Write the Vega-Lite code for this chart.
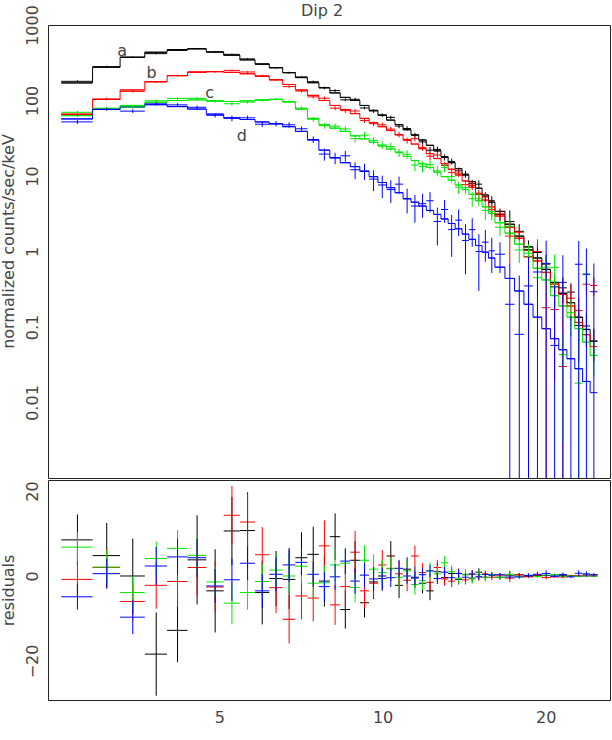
{
"$schema": "https://vega.github.io/schema/vega-lite/v6.json",
"padding": {"left": 0, "top": 2, "right": 0, "bottom": 0},
"spacing": 0,
"config": {
  "font": "DejaVu Sans",
  "view": {"stroke": "#222", "strokeWidth": 1},
  "axis": {"grid": false, "domain": false, "labelFont": "DejaVu Sans", "labelFontSize": 16, "labelColor": "#444", "titleFont": "DejaVu Sans", "titleFontSize": 16, "titleFontWeight": "normal", "titleColor": "#444", "tickColor": "#222", "tickWidth": 1, "tickSize": 0, "labelFlush": false, "labelOverlap": false}
},
"datasets": {
  "lbl": [{"t":"a","x":3.31,"y":459},{"t":"b","x":3.75,"y":232},{"t":"c","x":4.80,"y":125},{"t":"d","x":5.50,"y":34.2}],
  "spec": [
{"s":"a","lo":2.555,"hi":2.918,"c":2.7365,"m":171,"o":179.5,"el":173.5,"eh":185.5,"r":8.5,"e":6},
{"s":"a","lo":2.918,"hi":3.28,"c":3.099,"m":276,"o":280.8,"el":273.1,"eh":288.5,"r":4.8,"e":7.7},
{"s":"a","lo":3.28,"hi":3.643,"c":3.4615,"m":374,"o":374,"el":365.2,"eh":382.8,"r":0,"e":8.8},
{"s":"a","lo":3.643,"hi":4.005,"c":3.824,"m":436,"o":417.6,"el":407.8,"eh":427.4,"r":-18.4,"e":9.8},
{"s":"a","lo":4.005,"hi":4.368,"c":4.1865,"m":473,"o":460.2,"el":452.7,"eh":467.7,"r":-12.8,"e":7.5},
{"s":"a","lo":4.368,"hi":4.73,"c":4.549,"m":483,"o":486.8,"el":476.3,"eh":497.3,"r":3.8,"e":10.5},
{"s":"a","lo":4.73,"hi":5.093,"c":4.9115,"m":440,"o":436.5,"el":426.7,"eh":446.3,"r":-3.5,"e":9.8},
{"s":"a","lo":5.093,"hi":5.455,"c":5.274,"m":398,"o":408.6,"el":400.6,"eh":416.6,"r":10.6,"e":8},
{"s":"a","lo":5.455,"hi":5.818,"c":5.6365,"m":345,"o":355.7,"el":346.7,"eh":364.7,"r":10.7,"e":9},
{"s":"a","lo":5.818,"hi":6.18,"c":5.999,"m":305,"o":301.1,"el":293.6,"eh":308.6,"r":-3.9,"e":7.5},
{"s":"a","lo":6.18,"hi":6.543,"c":6.3615,"m":272,"o":271.4,"el":264.9,"eh":277.9,"r":-0.6,"e":6.5},
{"s":"a","lo":6.543,"hi":6.905,"c":6.724,"m":234,"o":233.2,"el":226.2,"eh":240.2,"r":-0.8,"e":7},
{"s":"a","lo":6.905,"hi":7.268,"c":7.0865,"m":201,"o":205.3,"el":199.3,"eh":211.3,"r":4.3,"e":6},
{"s":"a","lo":7.268,"hi":7.63,"c":7.449,"m":172,"o":177.1,"el":170.6,"eh":183.6,"r":5.1,"e":6.5},
{"s":"a","lo":7.63,"hi":7.993,"c":7.8115,"m":148,"o":146.8,"el":140.8,"eh":152.8,"r":-1.2,"e":6},
{"s":"a","lo":7.993,"hi":8.355,"c":8.174,"m":126,"o":135.25,"el":129.75,"eh":140.75,"r":9.25,"e":5.5},
{"s":"a","lo":8.355,"hi":8.718,"c":8.5365,"m":110,"o":102.1,"el":97.6,"eh":106.6,"r":-7.9,"e":4.5},
{"s":"a","lo":8.718,"hi":9.08,"c":8.899,"m":100,"o":103.7,"el":99.2,"eh":108.2,"r":3.7,"e":4.5},
{"s":"a","lo":9.08,"hi":9.443,"c":9.2615,"m":86,"o":79.7,"el":76.2,"eh":83.2,"r":-6.3,"e":3.5},
{"s":"a","lo":9.443,"hi":9.805,"c":9.624,"m":74,"o":72.6,"el":68.6,"eh":76.6,"r":-1.4,"e":4},
{"s":"a","lo":9.805,"hi":10.17,"c":9.9875,"m":64,"o":64,"el":60.5,"eh":67.5,"r":0,"e":3.5},
{"s":"a","lo":10.17,"hi":10.54,"c":10.355,"m":55,"o":59.7,"el":56.2,"eh":63.2,"r":4.7,"e":3.5},
{"s":"a","lo":10.54,"hi":10.91,"c":10.725,"m":48,"o":45.8,"el":42.8,"eh":48.8,"r":-2.2,"e":3},
{"s":"a","lo":10.91,"hi":11.285,"c":11.0975,"m":41,"o":42.6,"el":39.8,"eh":45.4,"r":1.6,"e":2.8},
{"s":"a","lo":11.285,"hi":11.66,"c":11.4725,"m":35,"o":34.7,"el":32.1,"eh":37.3,"r":-0.3,"e":2.6},
{"s":"a","lo":11.66,"hi":12.04,"c":11.85,"m":30,"o":28.3,"el":25.9,"eh":30.7,"r":-1.7,"e":2.4},
{"s":"a","lo":12.04,"hi":12.425,"c":12.2325,"m":25.5,"o":22,"el":19.8,"eh":24.2,"r":-3.5,"e":2.2},
{"s":"a","lo":12.425,"hi":12.815,"c":12.62,"m":21.5,"o":22.5,"el":20.5,"eh":24.5,"r":1,"e":2},
{"s":"a","lo":12.815,"hi":13.21,"c":13.0125,"m":18,"o":17.6,"el":16,"eh":19.2,"r":-0.4,"e":1.6},
{"s":"a","lo":13.21,"hi":13.61,"c":13.41,"m":15,"o":15.6,"el":14.2,"eh":17,"r":0.6,"e":1.4},
{"s":"a","lo":13.61,"hi":14.015,"c":13.8125,"m":12.5,"o":11.7,"el":10.5,"eh":12.9,"r":-0.8,"e":1.2},
{"s":"a","lo":14.015,"hi":14.425,"c":14.22,"m":10.3,"o":10.6,"el":9.5,"eh":11.7,"r":0.3,"e":1.1},
{"s":"a","lo":14.425,"hi":14.84,"c":14.6325,"m":8.4,"o":7.9,"el":6.9,"eh":8.9,"r":-0.5,"e":1},
{"s":"a","lo":14.84,"hi":15.26,"c":15.05,"m":6.9,"o":7.8,"el":6.9,"eh":8.7,"r":0.9,"e":0.9},
{"s":"a","lo":15.26,"hi":15.685,"c":15.4725,"m":5.6,"o":5.3,"el":4.5,"eh":6.1,"r":-0.3,"e":0.8},
{"s":"a","lo":15.685,"hi":16.115,"c":15.9,"m":4.5,"o":4.7,"el":4,"eh":5.4,"r":0.2,"e":0.7},
{"s":"a","lo":16.115,"hi":16.815,"c":16.465,"m":3.4,"o":3.1,"el":2.5,"eh":3.7,"r":-0.3,"e":0.6},
{"s":"a","lo":16.815,"hi":17.515,"c":17.165,"m":2.3,"o":2.5,"el":1.5,"eh":3.5,"r":0.2,"e":1},
{"s":"a","lo":17.515,"hi":18.225,"c":17.87,"m":1.6,"o":1.85,"el":1.4,"eh":2.3,"r":0.25,"e":0.45},
{"s":"a","lo":18.225,"hi":18.945,"c":18.585,"m":1.15,"o":1.05,"el":0.7,"eh":1.4,"r":-0.1,"e":0.35},
{"s":"a","lo":18.945,"hi":19.665,"c":19.305,"m":0.82,"o":0.97,"el":0.67,"eh":1.27,"r":0.15,"e":0.3},
{"s":"a","lo":19.665,"hi":20.395,"c":20.03,"m":0.58,"o":0.68,"el":0.46,"eh":0.9,"r":0.1,"e":0.22},
{"s":"a","lo":20.395,"hi":21.135,"c":20.765,"m":0.39,"o":0.34,"el":0.19,"eh":0.49,"r":-0.05,"e":0.15},
{"s":"a","lo":21.135,"hi":21.875,"c":21.505,"m":0.28,"o":0.33,"el":0.21,"eh":0.45,"r":0.05,"e":0.12},
{"s":"a","lo":21.875,"hi":22.625,"c":22.25,"m":0.21,"o":0.29,"el":0.2,"eh":0.38,"r":0.08,"e":0.09},
{"s":"a","lo":22.625,"hi":23.385,"c":23.005,"m":0.135,"o":0.105,"el":0.035,"eh":0.175,"r":-0.03,"e":0.07},
{"s":"a","lo":23.385,"hi":24.145,"c":23.765,"m":0.093,"o":0.103,"el":0.053,"eh":0.153,"r":0.01,"e":0.05},
{"s":"a","lo":24.145,"hi":24.915,"c":24.53,"m":0.065,"o":0.065,"el":0.035,"eh":0.095,"r":0,"e":0.03},
{"s":"b","lo":2.555,"hi":2.918,"c":2.7365,"m":66,"o":65.2,"el":61.2,"eh":69.2,"r":-0.8,"e":4},
{"s":"b","lo":2.918,"hi":3.28,"c":3.099,"m":103,"o":105,"el":100.5,"eh":109.5,"r":2,"e":4.5},
{"s":"b","lo":3.28,"hi":3.643,"c":3.4615,"m":138,"o":132,"el":127.5,"eh":136.5,"r":-6,"e":4.5},
{"s":"b","lo":3.643,"hi":4.005,"c":3.824,"m":178,"o":175.8,"el":170.3,"eh":181.3,"r":-2.2,"e":5.5},
{"s":"b","lo":4.005,"hi":4.368,"c":4.1865,"m":214,"o":212.7,"el":206.7,"eh":218.7,"r":-1.3,"e":6},
{"s":"b","lo":4.368,"hi":4.73,"c":4.549,"m":237,"o":239,"el":232.5,"eh":245.5,"r":2,"e":6.5},
{"s":"b","lo":4.73,"hi":5.093,"c":4.9115,"m":242,"o":239.4,"el":233.4,"eh":245.4,"r":-2.6,"e":6},
{"s":"b","lo":5.093,"hi":5.455,"c":5.274,"m":236,"o":250.3,"el":243.4,"eh":257.2,"r":14.3,"e":6.9},
{"s":"b","lo":5.455,"hi":5.818,"c":5.6365,"m":226,"o":238.7,"el":232.1,"eh":245.3,"r":12.7,"e":6.6},
{"s":"b","lo":5.818,"hi":6.18,"c":5.999,"m":208,"o":213,"el":206.5,"eh":219.5,"r":5,"e":6.5},
{"s":"b","lo":6.18,"hi":6.543,"c":6.3615,"m":189,"o":186.25,"el":180.25,"eh":192.25,"r":-2.75,"e":6},
{"s":"b","lo":6.543,"hi":6.905,"c":6.724,"m":163,"o":152.8,"el":147.1,"eh":158.5,"r":-10.2,"e":5.7},
{"s":"b","lo":6.905,"hi":7.268,"c":7.0865,"m":138,"o":133.3,"el":127.8,"eh":138.8,"r":-4.7,"e":5.5},
{"s":"b","lo":7.268,"hi":7.63,"c":7.449,"m":117,"o":111.8,"el":106.3,"eh":117.3,"r":-5.2,"e":5.5},
{"s":"b","lo":7.63,"hi":7.993,"c":7.8115,"m":100,"o":107.1,"el":101.1,"eh":113.1,"r":7.1,"e":6},
{"s":"b","lo":7.993,"hi":8.355,"c":8.174,"m":86,"o":79.2,"el":74.5,"eh":83.9,"r":-6.8,"e":4.7},
{"s":"b","lo":8.355,"hi":8.718,"c":8.5365,"m":76,"o":73.5,"el":68.5,"eh":78.5,"r":-2.5,"e":5},
{"s":"b","lo":8.718,"hi":9.08,"c":8.899,"m":67,"o":72.6,"el":67.6,"eh":77.6,"r":5.6,"e":5},
{"s":"b","lo":9.08,"hi":9.443,"c":9.2615,"m":58,"o":54.5,"el":50.5,"eh":58.5,"r":-3.5,"e":4},
{"s":"b","lo":9.443,"hi":9.805,"c":9.624,"m":51,"o":49.3,"el":45.8,"eh":52.8,"r":-1.7,"e":3.5},
{"s":"b","lo":9.805,"hi":10.17,"c":9.9875,"m":45,"o":47.6,"el":44.1,"eh":51.1,"r":2.6,"e":3.5},
{"s":"b","lo":10.17,"hi":10.54,"c":10.355,"m":40,"o":41.8,"el":38.8,"eh":44.8,"r":1.8,"e":3},
{"s":"b","lo":10.54,"hi":10.91,"c":10.725,"m":35,"o":35.5,"el":32.5,"eh":38.5,"r":0.5,"e":3},
{"s":"b","lo":10.91,"hi":11.285,"c":11.0975,"m":30.5,"o":29.5,"el":26.9,"eh":32.1,"r":-1,"e":2.6},
{"s":"b","lo":11.285,"hi":11.66,"c":11.4725,"m":26.5,"o":31.2,"el":28.7,"eh":33.7,"r":4.7,"e":2.5},
{"s":"b","lo":11.66,"hi":12.04,"c":11.85,"m":23,"o":23.8,"el":21.6,"eh":26,"r":0.8,"e":2.2},
{"s":"b","lo":12.04,"hi":12.425,"c":12.2325,"m":19.8,"o":18.3,"el":16.3,"eh":20.3,"r":-1.5,"e":2},
{"s":"b","lo":12.425,"hi":12.815,"c":12.62,"m":17,"o":19,"el":17.2,"eh":20.8,"r":2,"e":1.8},
{"s":"b","lo":12.815,"hi":13.21,"c":13.0125,"m":14.5,"o":13.8,"el":12.2,"eh":15.4,"r":-0.7,"e":1.6},
{"s":"b","lo":13.21,"hi":13.61,"c":13.41,"m":12.3,"o":11.1,"el":9.7,"eh":12.5,"r":-1.2,"e":1.4},
{"s":"b","lo":13.61,"hi":14.015,"c":13.8125,"m":10.3,"o":10.9,"el":9.7,"eh":12.1,"r":0.6,"e":1.2},
{"s":"b","lo":14.015,"hi":14.425,"c":14.22,"m":8.6,"o":7.7,"el":6.6,"eh":8.8,"r":-0.9,"e":1.1},
{"s":"b","lo":14.425,"hi":14.84,"c":14.6325,"m":7.1,"o":7.5,"el":6.5,"eh":8.5,"r":0.4,"e":1},
{"s":"b","lo":14.84,"hi":15.26,"c":15.05,"m":5.9,"o":5.7,"el":4.8,"eh":6.6,"r":-0.2,"e":0.9},
{"s":"b","lo":15.26,"hi":15.685,"c":15.4725,"m":4.8,"o":5.3,"el":4.5,"eh":6.1,"r":0.5,"e":0.8},
{"s":"b","lo":15.685,"hi":16.115,"c":15.9,"m":3.9,"o":3.6,"el":2.9,"eh":4.3,"r":-0.3,"e":0.7},
{"s":"b","lo":16.115,"hi":16.815,"c":16.465,"m":2.95,"o":3.15,"el":2.65,"eh":3.65,"r":0.2,"e":0.5},
{"s":"b","lo":16.815,"hi":17.515,"c":17.165,"m":2.1,"o":1.6,"el":0.7,"eh":2.5,"r":-0.5,"e":0.9},
{"s":"b","lo":17.515,"hi":18.225,"c":17.87,"m":1.5,"o":1.8,"el":1.4,"eh":2.2,"r":0.3,"e":0.4},
{"s":"b","lo":18.225,"hi":18.945,"c":18.585,"m":1.05,"o":0.85,"el":0.55,"eh":1.15,"r":-0.2,"e":0.3},
{"s":"b","lo":18.945,"hi":19.665,"c":19.305,"m":0.75,"o":1,"el":0.55,"eh":1.45,"r":0.25,"e":0.45},
{"s":"b","lo":19.665,"hi":20.395,"c":20.03,"m":0.53,"o":0.18,"el":0.00001,"eh":0.68,"r":-0.35,"e":0.5},
{"s":"b","lo":20.395,"hi":21.135,"c":20.765,"m":0.37,"o":0.17,"el":0.02,"eh":0.32,"r":-0.2,"e":0.15},
{"s":"b","lo":21.135,"hi":21.875,"c":21.505,"m":0.27,"o":0.03,"el":0.00001,"eh":0.33,"r":-0.24,"e":0.3},
{"s":"b","lo":21.875,"hi":22.625,"c":22.25,"m":0.19,"o":0.24,"el":0.12,"eh":0.36,"r":0.05,"e":0.12},
{"s":"b","lo":22.625,"hi":23.385,"c":23.005,"m":0.115,"o":0.165,"el":0.085,"eh":0.245,"r":0.05,"e":0.08},
{"s":"b","lo":23.385,"hi":24.145,"c":23.765,"m":0.079,"o":0.369,"el":0.269,"eh":0.469,"r":0.29,"e":0.1},
{"s":"b","lo":24.145,"hi":24.915,"c":24.53,"m":0.055,"o":0.355,"el":0.255,"eh":0.455,"r":0.3,"e":0.1},
{"s":"c","lo":2.555,"hi":2.918,"c":2.7365,"m":63,"o":69.8,"el":66.3,"eh":73.3,"r":6.8,"e":3.5},
{"s":"c","lo":2.918,"hi":3.28,"c":3.099,"m":77,"o":79.1,"el":75.1,"eh":83.1,"r":2.1,"e":4},
{"s":"c","lo":3.28,"hi":3.643,"c":3.4615,"m":86,"o":82.1,"el":78.1,"eh":86.1,"r":-3.9,"e":4},
{"s":"c","lo":3.643,"hi":4.005,"c":3.824,"m":95,"o":99.1,"el":95.1,"eh":103.1,"r":4.1,"e":4},
{"s":"c","lo":4.005,"hi":4.368,"c":4.1865,"m":100,"o":106.5,"el":102.2,"eh":110.8,"r":6.5,"e":4.3},
{"s":"c","lo":4.368,"hi":4.73,"c":4.549,"m":102,"o":106.85,"el":102.55,"eh":111.15,"r":4.85,"e":4.3},
{"s":"c","lo":4.73,"hi":5.093,"c":4.9115,"m":99,"o":97.6,"el":94.1,"eh":101.1,"r":-1.4,"e":3.5},
{"s":"c","lo":5.093,"hi":5.455,"c":5.274,"m":97,"o":90.6,"el":85.6,"eh":95.6,"r":-6.4,"e":5},
{"s":"c","lo":5.455,"hi":5.818,"c":5.6365,"m":99,"o":95.1,"el":91.1,"eh":99.1,"r":-3.9,"e":4},
{"s":"c","lo":5.818,"hi":6.18,"c":5.999,"m":102,"o":100.7,"el":96.7,"eh":104.7,"r":-1.3,"e":4},
{"s":"c","lo":6.18,"hi":6.543,"c":6.3615,"m":103,"o":104.4,"el":100.4,"eh":108.4,"r":1.4,"e":4},
{"s":"c","lo":6.543,"hi":6.905,"c":6.724,"m":96,"o":96,"el":92,"eh":100,"r":0,"e":4},
{"s":"c","lo":6.905,"hi":7.268,"c":7.0865,"m":77,"o":79.3,"el":75.3,"eh":83.3,"r":2.3,"e":4},
{"s":"c","lo":7.268,"hi":7.63,"c":7.449,"m":58,"o":56.3,"el":52.3,"eh":60.3,"r":-1.7,"e":4},
{"s":"c","lo":7.63,"hi":7.993,"c":7.8115,"m":48,"o":46.4,"el":42.4,"eh":50.4,"r":-1.6,"e":4},
{"s":"c","lo":7.993,"hi":8.355,"c":8.174,"m":43,"o":45.6,"el":41.6,"eh":49.6,"r":2.6,"e":4},
{"s":"c","lo":8.355,"hi":8.718,"c":8.5365,"m":39,"o":42,"el":38.5,"eh":45.5,"r":3,"e":3.5},
{"s":"c","lo":8.718,"hi":9.08,"c":8.899,"m":34,"o":31.3,"el":27.8,"eh":34.8,"r":-2.7,"e":3.5},
{"s":"c","lo":9.08,"hi":9.443,"c":9.2615,"m":31,"o":34.7,"el":31.2,"eh":38.2,"r":3.7,"e":3.5},
{"s":"c","lo":9.443,"hi":9.805,"c":9.624,"m":28,"o":29.6,"el":26.1,"eh":33.1,"r":1.6,"e":3.5},
{"s":"c","lo":9.805,"hi":10.17,"c":9.9875,"m":25,"o":25.8,"el":22.8,"eh":28.8,"r":0.8,"e":3},
{"s":"c","lo":10.17,"hi":10.54,"c":10.355,"m":22.8,"o":24.5,"el":21.7,"eh":27.3,"r":1.7,"e":2.8},
{"s":"c","lo":10.54,"hi":10.91,"c":10.725,"m":20.7,"o":20.4,"el":17.8,"eh":23,"r":-0.3,"e":2.6},
{"s":"c","lo":10.91,"hi":11.285,"c":11.0975,"m":18.2,"o":19.4,"el":16.9,"eh":21.9,"r":1.2,"e":2.5},
{"s":"c","lo":11.285,"hi":11.66,"c":11.4725,"m":16,"o":14,"el":11.6,"eh":16.4,"r":-2,"e":2.4},
{"s":"c","lo":11.66,"hi":12.04,"c":11.85,"m":14.5,"o":13.4,"el":11.2,"eh":15.6,"r":-1.1,"e":2.2},
{"s":"c","lo":12.04,"hi":12.425,"c":12.2325,"m":13,"o":14.2,"el":12.2,"eh":16.2,"r":1.2,"e":2},
{"s":"c","lo":12.425,"hi":12.815,"c":12.62,"m":11.2,"o":11.7,"el":9.9,"eh":13.5,"r":0.5,"e":1.8},
{"s":"c","lo":12.815,"hi":13.21,"c":13.0125,"m":9.8,"o":12.9,"el":11.3,"eh":14.5,"r":3.1,"e":1.6},
{"s":"c","lo":13.21,"hi":13.61,"c":13.41,"m":8.8,"o":9.8,"el":8.3,"eh":11.3,"r":1,"e":1.5},
{"s":"c","lo":13.61,"hi":14.015,"c":13.8125,"m":7.6,"o":7.1,"el":5.8,"eh":8.4,"r":-0.5,"e":1.3},
{"s":"c","lo":14.015,"hi":14.425,"c":14.22,"m":6.6,"o":7,"el":5.8,"eh":8.2,"r":0.4,"e":1.2},
{"s":"c","lo":14.425,"hi":14.84,"c":14.6325,"m":5.7,"o":5,"el":3.9,"eh":6.1,"r":-0.7,"e":1.1},
{"s":"c","lo":14.84,"hi":15.26,"c":15.05,"m":4.7,"o":5,"el":4,"eh":6,"r":0.3,"e":1},
{"s":"c","lo":15.26,"hi":15.685,"c":15.4725,"m":3.9,"o":3.5,"el":2.6,"eh":4.4,"r":-0.4,"e":0.9},
{"s":"c","lo":15.685,"hi":16.115,"c":15.9,"m":3.2,"o":3.4,"el":2.6,"eh":4.2,"r":0.2,"e":0.8},
{"s":"c","lo":16.115,"hi":16.815,"c":16.465,"m":2.4,"o":2.1,"el":1.6,"eh":2.6,"r":-0.3,"e":0.5},
{"s":"c","lo":16.815,"hi":17.515,"c":17.165,"m":1.75,"o":2.15,"el":1.45,"eh":2.85,"r":0.4,"e":0.7},
{"s":"c","lo":17.515,"hi":18.225,"c":17.87,"m":1.25,"o":1.05,"el":0.7,"eh":1.4,"r":-0.2,"e":0.35},
{"s":"c","lo":18.225,"hi":18.945,"c":18.585,"m":0.85,"o":0.95,"el":0.65,"eh":1.25,"r":0.1,"e":0.3},
{"s":"c","lo":18.945,"hi":19.665,"c":19.305,"m":0.6,"o":0.45,"el":0.25,"eh":0.65,"r":-0.15,"e":0.2},
{"s":"c","lo":19.665,"hi":20.395,"c":20.03,"m":0.42,"o":0.62,"el":0.37,"eh":0.87,"r":0.2,"e":0.25},
{"s":"c","lo":20.395,"hi":21.135,"c":20.765,"m":0.26,"o":0.61,"el":0.31,"eh":0.91,"r":0.35,"e":0.3},
{"s":"c","lo":21.135,"hi":21.875,"c":21.505,"m":0.19,"o":0.043,"el":0.003,"eh":0.083,"r":-0.147,"e":0.04},
{"s":"c","lo":21.875,"hi":22.625,"c":22.25,"m":0.135,"o":0.155,"el":0.075,"eh":0.235,"r":0.02,"e":0.08},
{"s":"c","lo":22.625,"hi":23.385,"c":23.005,"m":0.095,"o":0.018,"el":0.00001,"eh":0.118,"r":-0.077,"e":0.1},
{"s":"c","lo":23.385,"hi":24.145,"c":23.765,"m":0.063,"o":0.503,"el":0.353,"eh":0.653,"r":0.44,"e":0.15},
{"s":"c","lo":24.145,"hi":24.915,"c":24.53,"m":0.042,"o":0.042,"el":0.022,"eh":0.062,"r":0,"e":0.02},
{"s":"d","lo":2.555,"hi":2.918,"c":2.7365,"m":57,"o":52.1,"el":49.1,"eh":55.1,"r":-4.9,"e":3},
{"s":"d","lo":2.918,"hi":3.28,"c":3.099,"m":76,"o":76.55,"el":73.05,"eh":80.05,"r":0.55,"e":3.5},
{"s":"d","lo":3.28,"hi":3.643,"c":3.4615,"m":82,"o":72.3,"el":68.3,"eh":76.3,"r":-9.7,"e":4},
{"s":"d","lo":3.643,"hi":4.005,"c":3.824,"m":88,"o":90.35,"el":85.85,"eh":94.85,"r":2.35,"e":4.5},
{"s":"d","lo":4.005,"hi":4.368,"c":4.1865,"m":83,"o":87.5,"el":83.2,"eh":91.8,"r":4.5,"e":4.3},
{"s":"d","lo":4.368,"hi":4.73,"c":4.549,"m":77,"o":81.3,"el":76.8,"eh":85.8,"r":4.3,"e":4.5},
{"s":"d","lo":4.73,"hi":5.093,"c":4.9115,"m":66,"o":63.65,"el":59.65,"eh":67.65,"r":-2.35,"e":4},
{"s":"d","lo":5.093,"hi":5.455,"c":5.274,"m":59,"o":58.1,"el":53.1,"eh":63.1,"r":-0.9,"e":5},
{"s":"d","lo":5.455,"hi":5.818,"c":5.6365,"m":56,"o":59,"el":55,"eh":63,"r":3,"e":4},
{"s":"d","lo":5.818,"hi":6.18,"c":5.999,"m":52,"o":48.5,"el":44.5,"eh":52.5,"r":-3.5,"e":4},
{"s":"d","lo":6.18,"hi":6.543,"c":6.3615,"m":49,"o":49.4,"el":45.4,"eh":53.4,"r":0.4,"e":4},
{"s":"d","lo":6.543,"hi":6.905,"c":6.724,"m":45,"o":47.6,"el":43.6,"eh":51.6,"r":2.6,"e":4},
{"s":"d","lo":6.905,"hi":7.268,"c":7.0865,"m":39,"o":42.2,"el":39.2,"eh":45.2,"r":3.2,"e":3},
{"s":"d","lo":7.268,"hi":7.63,"c":7.449,"m":30,"o":30.4,"el":27.4,"eh":33.4,"r":0.4,"e":3},
{"s":"d","lo":7.63,"hi":7.993,"c":7.8115,"m":22,"o":19.5,"el":16,"eh":23,"r":-2.5,"e":3.5},
{"s":"d","lo":7.993,"hi":8.355,"c":8.174,"m":17.5,"o":17.3,"el":14.3,"eh":20.3,"r":-0.2,"e":3},
{"s":"d","lo":8.355,"hi":8.718,"c":8.5365,"m":15,"o":18.5,"el":15.5,"eh":21.5,"r":3.5,"e":3},
{"s":"d","lo":8.718,"hi":9.08,"c":8.899,"m":13.3,"o":12.1,"el":9.1,"eh":15.1,"r":-1.2,"e":3},
{"s":"d","lo":9.08,"hi":9.443,"c":9.2615,"m":11.5,"o":11.7,"el":8.9,"eh":14.5,"r":0.2,"e":2.8},
{"s":"d","lo":9.443,"hi":9.805,"c":9.624,"m":9.8,"o":9.1,"el":6.3,"eh":11.9,"r":-0.7,"e":2.8},
{"s":"d","lo":9.805,"hi":10.17,"c":9.9875,"m":8.2,"o":7.6,"el":5.1,"eh":10.1,"r":-0.6,"e":2.5},
{"s":"d","lo":10.17,"hi":10.54,"c":10.355,"m":7,"o":6.6,"el":4.4,"eh":8.8,"r":-0.4,"e":2.2},
{"s":"d","lo":10.54,"hi":10.91,"c":10.725,"m":6,"o":7.8,"el":5.8,"eh":9.8,"r":1.8,"e":2},
{"s":"d","lo":10.91,"hi":11.285,"c":11.0975,"m":5,"o":5,"el":3.2,"eh":6.8,"r":0,"e":1.8},
{"s":"d","lo":11.285,"hi":11.66,"c":11.4725,"m":4.5,"o":4,"el":2.4,"eh":5.6,"r":-0.5,"e":1.6},
{"s":"d","lo":11.66,"hi":12.04,"c":11.85,"m":4,"o":4.3,"el":2.8,"eh":5.8,"r":0.3,"e":1.5},
{"s":"d","lo":12.04,"hi":12.425,"c":12.2325,"m":3.5,"o":4.7,"el":3.3,"eh":6.1,"r":1.2,"e":1.4},
{"s":"d","lo":12.425,"hi":12.815,"c":12.62,"m":3.1,"o":2.5,"el":1.2,"eh":3.8,"r":-0.6,"e":1.3},
{"s":"d","lo":12.815,"hi":13.21,"c":13.0125,"m":2.7,"o":3.6,"el":2.4,"eh":4.8,"r":0.9,"e":1.2},
{"s":"d","lo":13.21,"hi":13.61,"c":13.41,"m":2.35,"o":1.95,"el":0.85,"eh":3.05,"r":-0.4,"e":1.1},
{"s":"d","lo":13.61,"hi":14.015,"c":13.8125,"m":2,"o":2.6,"el":1.6,"eh":3.6,"r":0.6,"e":1},
{"s":"d","lo":14.015,"hi":14.425,"c":14.22,"m":1.7,"o":1.4,"el":0.5,"eh":2.3,"r":-0.3,"e":0.9},
{"s":"d","lo":14.425,"hi":14.84,"c":14.6325,"m":1.45,"o":1.95,"el":1.15,"eh":2.75,"r":0.5,"e":0.8},
{"s":"d","lo":14.84,"hi":15.26,"c":15.05,"m":1.2,"o":1,"el":0.3,"eh":1.7,"r":-0.2,"e":0.7},
{"s":"d","lo":15.26,"hi":15.685,"c":15.4725,"m":0.98,"o":1.33,"el":0.73,"eh":1.93,"r":0.35,"e":0.6},
{"s":"d","lo":15.685,"hi":16.115,"c":15.9,"m":0.82,"o":1.02,"el":0.52,"eh":1.52,"r":0.2,"e":0.5},
{"s":"d","lo":16.115,"hi":16.815,"c":16.465,"m":0.62,"o":0.92,"el":0.52,"eh":1.32,"r":0.3,"e":0.4},
{"s":"d","lo":16.815,"hi":17.515,"c":17.165,"m":0.44,"o":0.2,"el":0.00001,"eh":0.7,"r":-0.24,"e":0.5},
{"s":"d","lo":17.515,"hi":18.225,"c":17.87,"m":0.3,"o":0.08,"el":0.00001,"eh":0.48,"r":-0.22,"e":0.4},
{"s":"d","lo":18.225,"hi":18.945,"c":18.585,"m":0.2,"o":0.35,"el":0.00001,"eh":0.85,"r":0.15,"e":0.5},
{"s":"d","lo":18.945,"hi":19.665,"c":19.305,"m":0.135,"o":0.535,"el":0.00001,"eh":1.135,"r":0.4,"e":0.6},
{"s":"d","lo":19.665,"hi":20.395,"c":20.03,"m":0.095,"o":0.695,"el":0.00001,"eh":1.395,"r":0.6,"e":0.7},
{"s":"d","lo":20.395,"hi":21.135,"c":20.765,"m":0.07,"o":0.057,"el":0.00001,"eh":0.357,"r":-0.013,"e":0.3},
{"s":"d","lo":21.135,"hi":21.875,"c":21.505,"m":0.05,"o":0.39,"el":0.00001,"eh":0.89,"r":0.34,"e":0.5},
{"s":"d","lo":21.875,"hi":22.625,"c":22.25,"m":0.038,"o":null,"el":0.00001,"eh":0.138,"r":-0.2,"e":0.3},
{"s":"d","lo":22.625,"hi":23.385,"c":23.005,"m":0.028,"o":0.678,"el":0.00001,"eh":1.378,"r":0.65,"e":0.7},
{"s":"d","lo":23.385,"hi":24.145,"c":23.765,"m":0.019,"o":0.499,"el":0.00001,"eh":1.099,"r":0.48,"e":0.6},
{"s":"d","lo":24.145,"hi":24.915,"c":24.53,"m":0.0135,"o":0.2935,"el":0.00001,"eh":0.6935,"r":0.28,"e":0.4}
  ]
},
"vconcat": [
{
  "width": 562, "height": 453,
  "data": {"name": "spec"},
  "layer": [
    {"mark": {"type": "line", "interpolate": "step-after", "strokeWidth": 1, "clip": true},
     "encoding": {
       "x": {"field": "lo", "type": "quantitative", "scale": {"type": "log", "domain": [2.415, 26.27], "nice": false},
             "axis": {"orient": "bottom", "values": [3,4,5,6,7,8,9,10,20], "labels": false, "title": null,
                      "encode": {"ticks": {"update": {"y2": [{"test": "datum.value==5||datum.value==10||datum.value==20", "value": -10}, {"value": -5}]}}}}},
       "y": {"field": "m", "type": "quantitative", "scale": {"type": "log", "domain": [0.001, 1000], "nice": false},
             "axis": {"orient": "left", "values": [0.001,0.002,0.003,0.004,0.005,0.006,0.007,0.008,0.009,0.01,0.02,0.03,0.04,0.05,0.06,0.07,0.08,0.09,0.1,0.2,0.3,0.4,0.5,0.6,0.7,0.8,0.9,1,2,3,4,5,6,7,8,9,10,20,30,40,50,60,70,80,90,100,200,300,400,500,600,700,800,900,1000],
                      "title": "normalized counts/sec/keV", "titleX": -39.5, "titleY": 216, "titleBaseline": "middle", "titleAlign": "center",
                      "labelExpr": "(abs(log(datum.value)/LN10-round(log(datum.value)/LN10))<0.001 && datum.value>0.005) ? format(datum.value,'~g') : ''",
                      "labelAngle": -90, "labelAlign": "center", "labelBaseline": "middle", "labelPadding": 16,
                      "encode": {"ticks": {"update": {"x2": [{"test": "abs(log(datum.value)/LN10-round(log(datum.value)/LN10))<0.001", "value": 10}, {"value": 5}]}}}}},
       "color": {"field": "s", "type": "nominal", "scale": {"domain": ["a","b","c","d"], "range": ["#000000","#ff0000","#00e600","#0000ff"]}, "legend": null}
     }},
    {"mark": {"type": "rule", "strokeWidth": 1, "clip": true},
     "encoding": {
       "x": {"field": "lo", "type": "quantitative",
             "axis": {"orient": "top", "values": [3,4,5,6,7,8,9,10,20], "labels": false,
                      "title": "Dip 2", "titleX": 273.5, "titleY": -9.5, "titleAlign": "center", "titleBaseline": "alphabetic", "titleAngle": 0,
                      "encode": {"ticks": {"update": {"y2": [{"test": "datum.value==5||datum.value==10||datum.value==20", "value": 10}, {"value": 5}]}}}}},
       "x2": {"field": "hi"},
       "y": {"field": "m", "type": "quantitative",
             "axis": {"orient": "right", "values": [0.001,0.002,0.003,0.004,0.005,0.006,0.007,0.008,0.009,0.01,0.02,0.03,0.04,0.05,0.06,0.07,0.08,0.09,0.1,0.2,0.3,0.4,0.5,0.6,0.7,0.8,0.9,1,2,3,4,5,6,7,8,9,10,20,30,40,50,60,70,80,90,100,200,300,400,500,600,700,800,900,1000],
                      "labels": false, "title": null,
                      "encode": {"ticks": {"update": {"x2": [{"test": "abs(log(datum.value)/LN10-round(log(datum.value)/LN10))<0.001", "value": -10}, {"value": -5}]}}}}},
       "color": {"field": "s", "type": "nominal", "legend": null}
     }},
    {"mark": {"type": "rule", "strokeWidth": 1, "clip": true},
     "encoding": {
       "x": {"field": "lo", "type": "quantitative", "axis": null},
       "x2": {"field": "hi"},
       "y": {"field": "o", "type": "quantitative", "axis": null},
       "color": {"field": "s", "type": "nominal", "legend": null}
     }},
    {"mark": {"type": "rule", "strokeWidth": 1, "clip": true},
     "encoding": {
       "x": {"field": "c", "type": "quantitative", "axis": null},
       "y": {"field": "el", "type": "quantitative", "axis": null},
       "y2": {"field": "eh"},
       "color": {"field": "s", "type": "nominal", "legend": null}
     }},
    {"data": {"name": "lbl"},
     "mark": {"type": "text", "font": "DejaVu Sans", "fontSize": 16, "fill": "#444", "align": "center", "baseline": "middle"},
     "encoding": {
       "x": {"field": "x", "type": "quantitative", "axis": null},
       "y": {"field": "y", "type": "quantitative", "axis": null},
       "text": {"field": "t"}
     }}
  ],
  "resolve": {"axis": {"x": "independent", "y": "independent"}}
},
{
  "width": 562, "height": 220,
  "data": {"name": "spec"},
  "layer": [
    {"mark": {"type": "rule", "strokeWidth": 1},
     "encoding": {
       "x": {"field": "lo", "type": "quantitative", "scale": {"type": "log", "domain": [2.415, 26.27], "nice": false},
             "axis": {"orient": "bottom", "values": [3,4,5,6,7,8,9,10,20], "title": null,
                      "labelExpr": "(datum.value==5||datum.value==10||datum.value==20) ? format(datum.value,'d') : ''",
                      "labelPadding": 9,
                      "encode": {"ticks": {"update": {"y2": [{"test": "datum.value==5||datum.value==10||datum.value==20", "value": -10}, {"value": -5}]}}}}},
       "x2": {"field": "hi"},
       "y": {"field": "r", "type": "quantitative", "scale": {"domain": [-29.2, 22.6], "nice": false, "zero": false},
             "axis": {"orient": "left", "values": [-20,-10,0,10,20], "title": "residuals", "titleX": -39.5, "titleBaseline": "middle", "titleAlign": "center",
                      "labelExpr": "datum.value%20==0 ? format(datum.value,'d') : ''",
                      "labelAngle": -90, "labelAlign": "center", "labelBaseline": "middle", "labelPadding": 16,
                      "encode": {"ticks": {"update": {"x2": [{"test": "datum.value%20==0", "value": 10}, {"value": 5}]}}}}},
       "color": {"field": "s", "type": "nominal", "scale": {"domain": ["a","b","c","d"], "range": ["#000000","#ff0000","#00e600","#0000ff"]}, "legend": null}
     }},
    {"mark": {"type": "errorbar", "thickness": 1},
     "encoding": {
       "x": {"field": "c", "type": "quantitative", "axis": null},
       "y": {"field": "r", "type": "quantitative",
             "axis": {"orient": "right", "values": [-20,-10,0,10,20], "labels": false, "title": null,
                      "encode": {"ticks": {"update": {"x2": [{"test": "datum.value%20==0", "value": -10}, {"value": -5}]}}}}},
       "yError": {"field": "e"},
       "color": {"field": "s", "type": "nominal", "legend": null}
     }}
  ],
  "resolve": {"axis": {"x": "independent", "y": "independent"}}
}
]
}
